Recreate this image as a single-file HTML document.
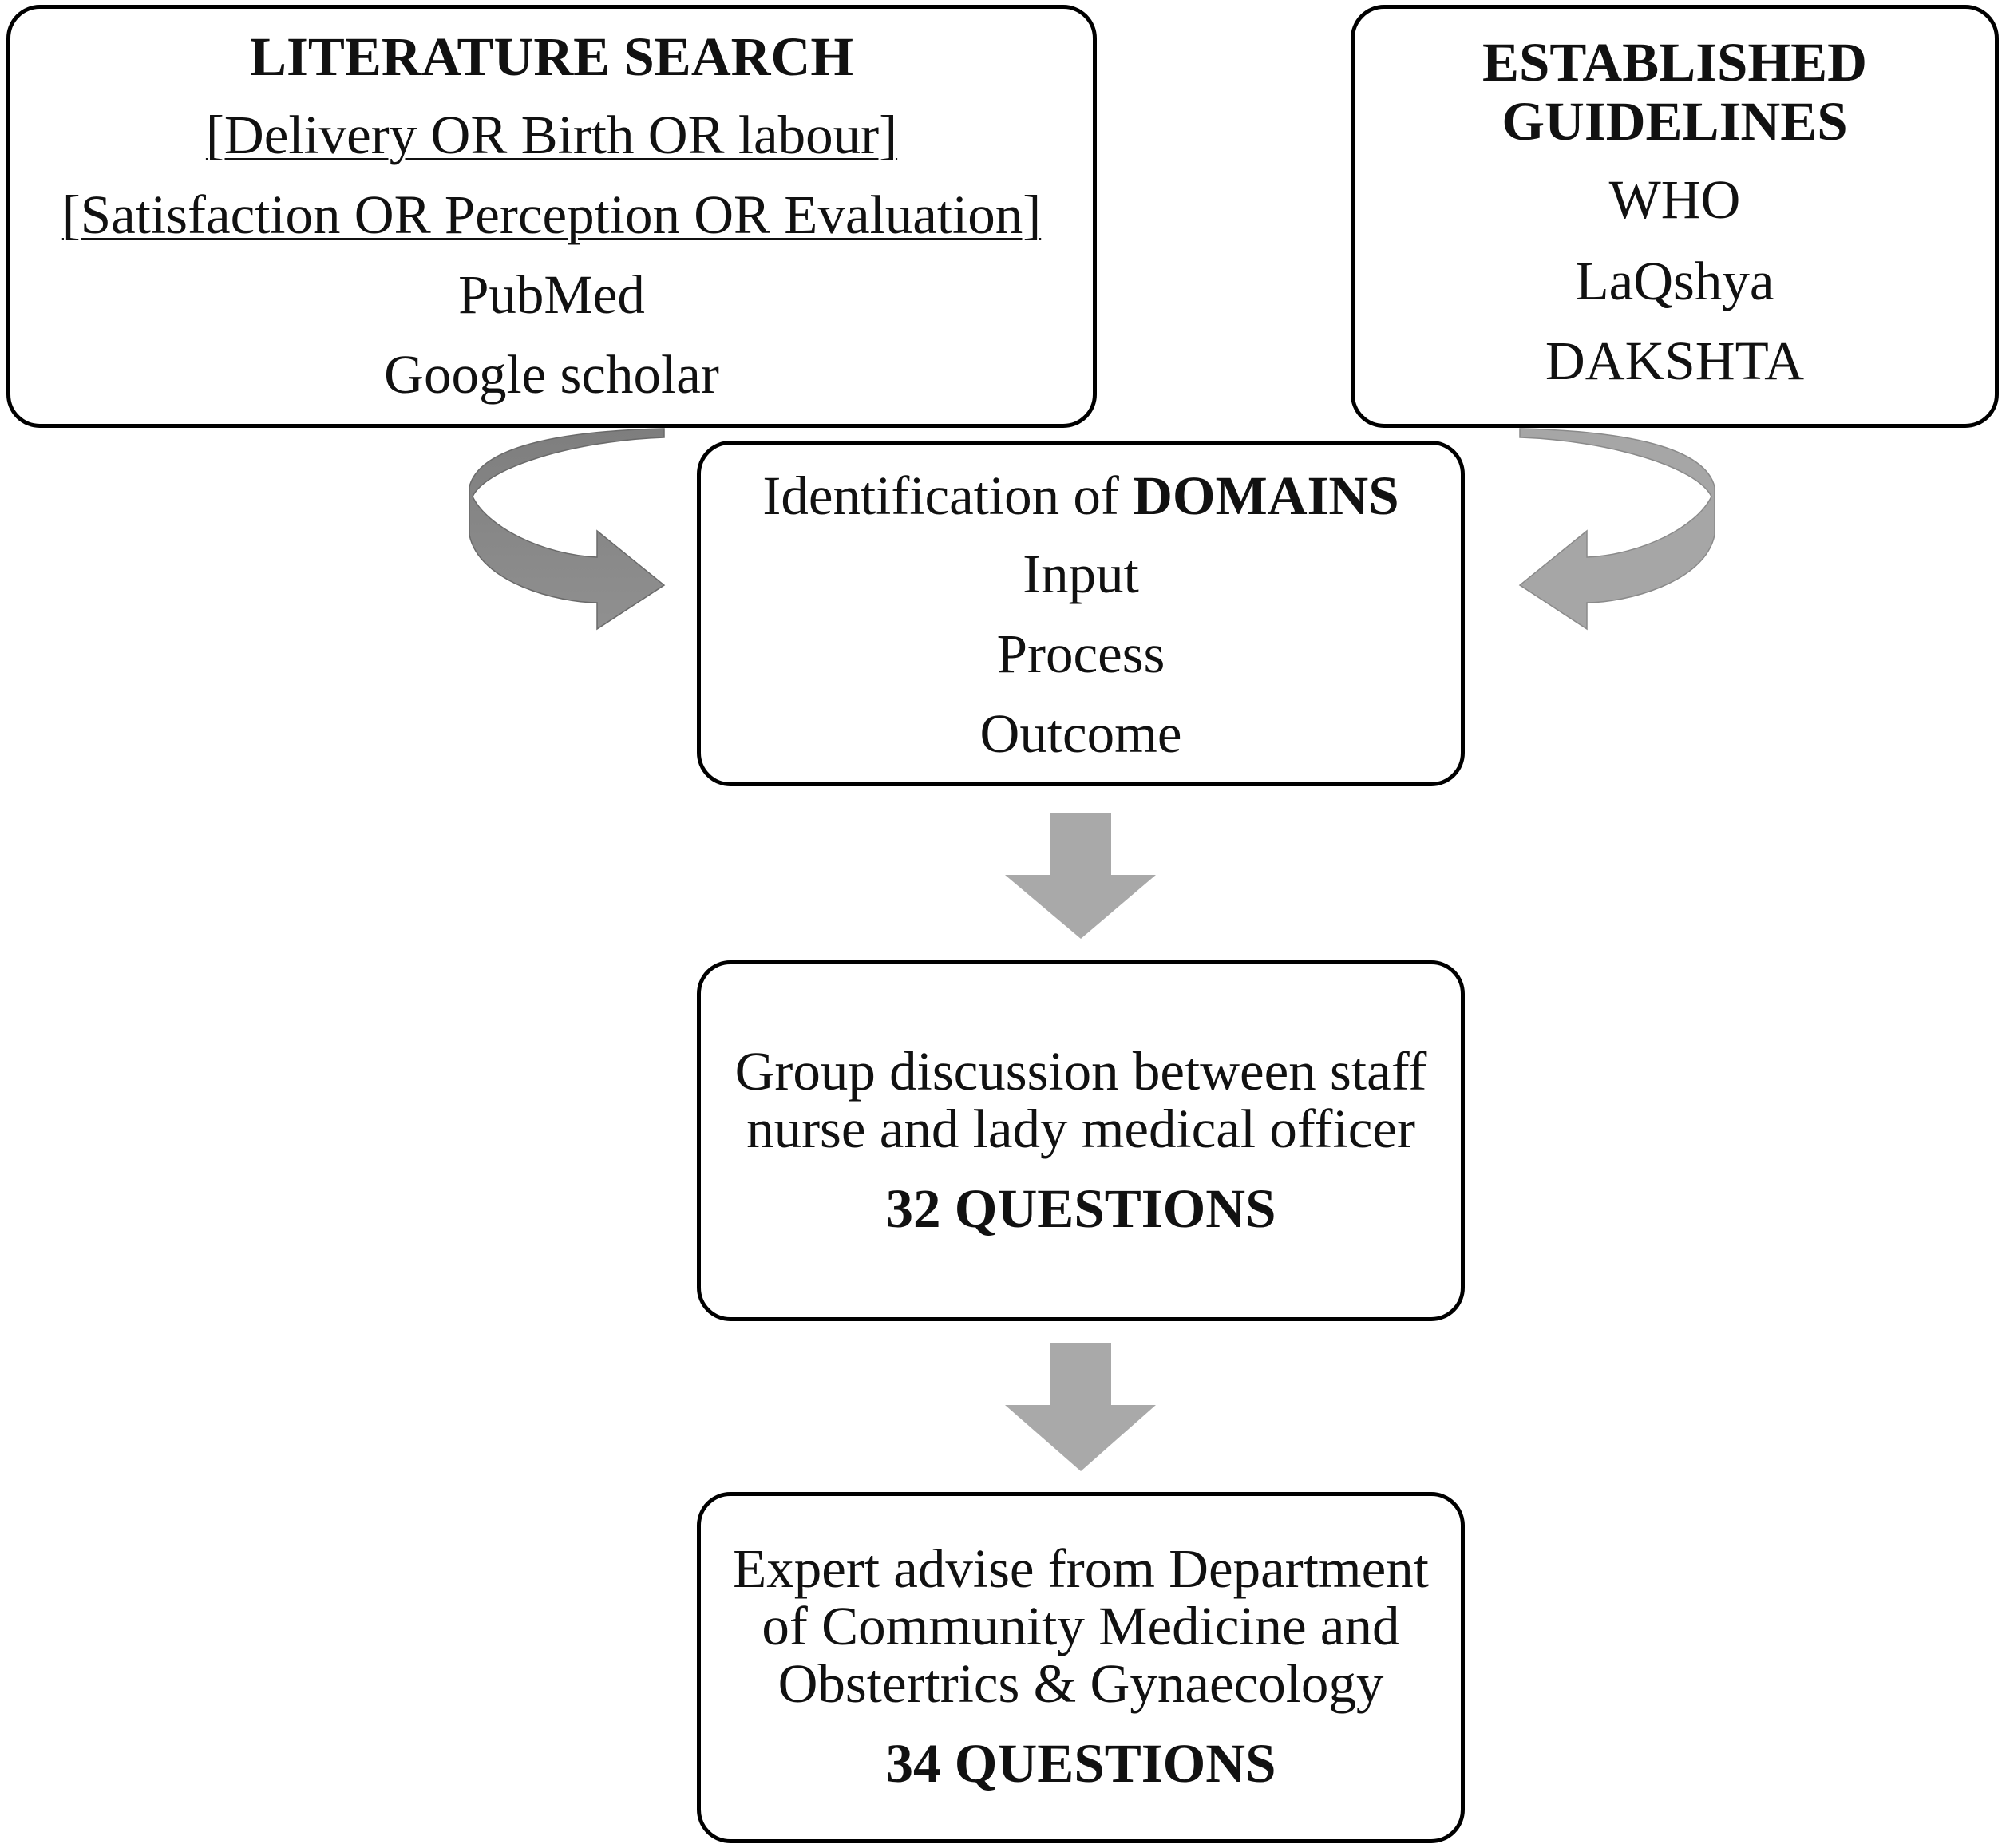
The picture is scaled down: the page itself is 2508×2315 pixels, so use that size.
<!DOCTYPE html>
<html><head><meta charset="utf-8"><style>
body{margin:0;width:2508px;height:2315px;background:#fff;position:relative;overflow:hidden;font-family:"Liberation Serif",serif;color:#111}
.b{position:absolute;border:5px solid #000;border-radius:42px;box-sizing:border-box;text-align:center;font-size:69px}
.l{position:absolute;left:0;right:0;text-align:center;white-space:nowrap;line-height:1}
b{font-weight:bold}
u{text-decoration:underline;text-decoration-thickness:3px;text-underline-offset:6px}
svg{position:absolute;left:0;top:0}
</style></head><body>
<svg width="2508" height="2315">
<defs>
<linearGradient id="g1" x1="0" y1="0" x2="0" y2="1"><stop offset="0" stop-color="#7e7e7e"/><stop offset="1" stop-color="#909090"/></linearGradient>
</defs>
<path d="M832,537 C700,540 600,560 588,610 L588,670 C600,730 700,755 748,755 L748,788 L832,733 L748,665 L748,698 C680,695 610,660 592,622 C610,585 720,552 832,548 Z" fill="url(#g1)" stroke="#6a6a6a" stroke-width="1.5"/>
<g transform="translate(2736,0) scale(-1,1)">
<path d="M832,537 C700,540 600,560 588,610 L588,670 C600,730 700,755 748,755 L748,788 L832,733 L748,665 L748,698 C680,695 610,660 592,622 C610,585 720,552 832,548 Z" fill="#a6a6a6" stroke="#8a8a8a" stroke-width="1.5"/>
</g>
<path d="M1315,1019 H1392 V1096 H1448 L1354,1176 L1259,1096 H1315 Z" fill="#a9a9a9"/>
<path d="M1315,1683 H1392 V1760 H1448 L1354,1843 L1259,1760 H1315 Z" fill="#a9a9a9"/>
</svg>
<div class="b" style="left:8px;top:6px;width:1366px;height:530px">
<div class="l" style="top:26px"><b>LITERATURE SEARCH</b></div>
<div class="l" style="top:124px"><u>[Delivery OR Birth OR labour]</u></div>
<div class="l" style="top:224px"><u>[Satisfaction OR Perception OR Evaluation]</u></div>
<div class="l" style="top:324px">PubMed</div>
<div class="l" style="top:424px">Google scholar</div>
</div>
<div class="b" style="left:1692px;top:6px;width:812px;height:530px">
<div class="l" style="top:33px"><b>ESTABLISHED</b></div>
<div class="l" style="top:107px"><b>GUIDELINES</b></div>
<div class="l" style="top:205px">WHO</div>
<div class="l" style="top:307px">LaQshya</div>
<div class="l" style="top:407px">DAKSHTA</div>
</div>
<div class="b" style="left:873px;top:552px;width:962px;height:433px">
<div class="l" style="top:30px">Identification of <b>DOMAINS</b></div>
<div class="l" style="top:128px">Input</div>
<div class="l" style="top:228px">Process</div>
<div class="l" style="top:328px">Outcome</div>
</div>
<div class="b" style="left:873px;top:1203px;width:962px;height:452px">
<div class="l" style="top:100px">Group discussion between staff</div>
<div class="l" style="top:172px">nurse and lady medical officer</div>
<div class="l" style="top:272px"><b>32 QUESTIONS</b></div>
</div>
<div class="b" style="left:873px;top:1869px;width:962px;height:440px">
<div class="l" style="top:57px">Expert advise from Department</div>
<div class="l" style="top:129px">of Community Medicine and</div>
<div class="l" style="top:201px">Obstertrics &amp; Gynaecology</div>
<div class="l" style="top:301px"><b>34 QUESTIONS</b></div>
</div>
</body></html>
